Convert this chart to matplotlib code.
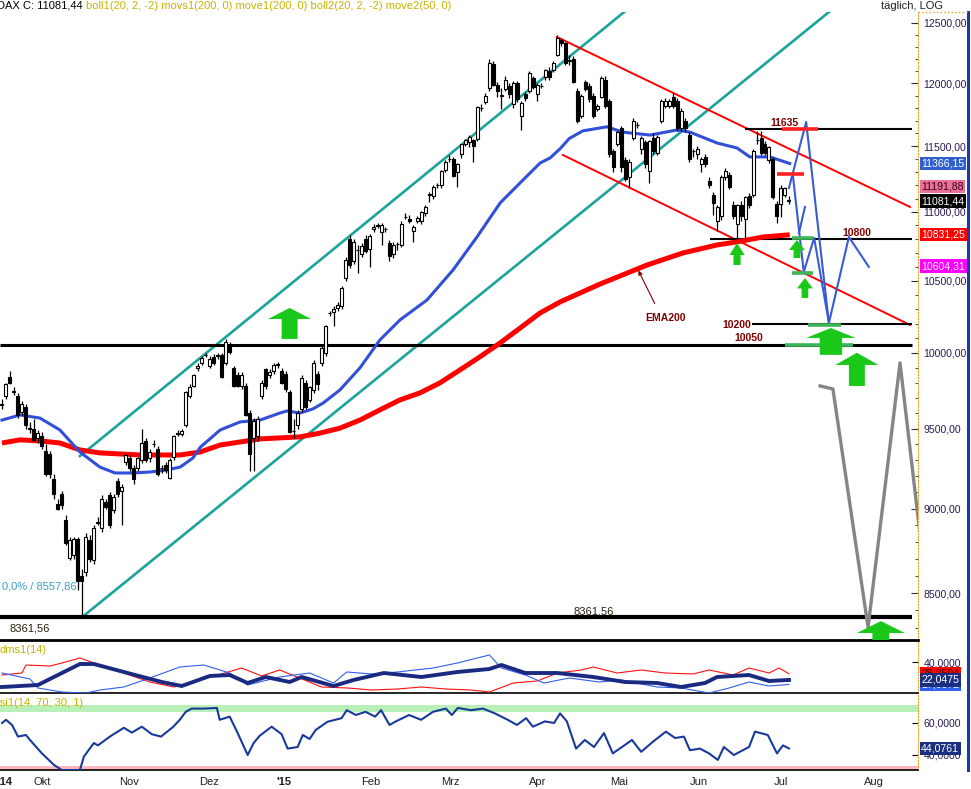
import matplotlib
matplotlib.use('Agg')
import matplotlib.pyplot as plt
from matplotlib.patches import Polygon
from matplotlib.lines import Line2D
from matplotlib.ticker import FixedLocator, FuncFormatter, NullFormatter
import numpy as np

plt.rcParams['font.family'] = ['Liberation Sans', 'DejaVu Sans']

# daily candles, 19.09.2014 .. 07.07.2015
opens = [9660, 9710, 9840, 9745, 9710, 9610, 9640, 9505, 9500, 9440,
         9450, 9360, 9340, 9180, 9030, 9090, 8930, 8705, 8720, 8815,
         8600, 8620, 8810, 8690, 8915, 8880, 9040, 9080, 8990, 9170,
         9110, 9290, 9310, 9250, 9250, 9300, 9420, 9310, 9400, 9370,
         9250, 9270, 9190, 9320, 9465, 9465, 9520, 9710, 9780, 9895,
         9930, 9985, 9910, 9970, 9975, 9985, 9930, 10045, 9895, 9850,
         9775, 9780, 9600, 9440, 9450, 9710, 9890, 9850, 9880, 9920,
         9880, 9860, 9735, 9485, 9520, 9630, 9795, 9685, 9750, 9860,
         9930, 10000, 10270, 10280, 10310, 10320, 10520, 10800, 10640, 10720,
         10690, 10800, 10730, 10870, 10895, 10850, 10870, 10770, 10690, 10765,
         10760, 10960, 10950, 10860, 10935, 10935, 10990, 11130, 11120, 11200,
         11200, 11320, 11400, 11400, 11300, 11440, 11515, 11530, 11550, 11555,
         11800, 11850, 11960, 12155, 11990, 11900, 11955, 11975, 11830, 12000,
         11735, 11915, 11940, 12045, 11915, 11980, 12050, 12100, 12105, 12235,
         12355, 12330, 12180, 12200, 11940, 11740, 12010, 11975, 11900, 11795,
         11890, 12030, 11855, 11460, 11515, 11640, 11395, 11265, 11565, 11665,
         11480, 11530, 11305, 11565, 11450, 11700, 11820, 11820, 11890, 11855,
         11640, 11700, 11590, 11460, 11440, 11360, 11420, 11235, 11130, 10930,
         10970, 11260, 11280, 11050, 10910, 11050, 10950, 11120, 11130, 11550,
         11565, 11520, 11390, 11400, 11060, 11060, 11130, 11090]
highs = [9690, 9800, 9880, 9770, 9730, 9680, 9660, 9540, 9560, 9490,
         9480, 9400, 9360, 9210, 9060, 9110, 8960, 8830, 8830, 8830,
         8640, 8850, 8840, 8900, 8950, 9080, 9060, 9100, 9090, 9190,
         9150, 9340, 9330, 9270, 9320, 9500, 9440, 9370, 9430, 9390,
         9270, 9290, 9310, 9460, 9490, 9500, 9745, 9790, 9860, 9930,
         9980, 10000, 9980, 9990, 10000, 10000, 10095, 10070, 9910, 9870,
         9870, 9800, 9620, 9570, 9580, 9820, 9900, 9890, 9930, 9940,
         9900, 9880, 9750, 9560, 9620, 9850, 9820, 9780, 9950, 9880,
         10050, 10190, 10290, 10320, 10350, 10460, 10670, 10830, 10800, 10760,
         10770, 10830, 10840, 10910, 10920, 10920, 10890, 10790, 10780, 10780,
         10930, 10990, 10980, 10900, 10970, 11010, 11050, 11150, 11200, 11220,
         11320, 11390, 11430, 11420, 11370, 11520, 11560, 11590, 11560, 11820,
         11830, 11920, 12200, 12180, 12010, 11960, 12060, 12000, 12020, 12020,
         11860, 11930, 12100, 12060, 12000, 12000, 12120, 12130, 12180, 12400,
         12370, 12340, 12230, 12220, 11960, 11910, 12030, 12000, 11920, 11830,
         12060, 12060, 11870, 11480, 11620, 11660, 11420, 11400, 11720, 11690,
         11580, 11550, 11550, 11600, 11590, 11870, 11880, 11870, 11920, 11880,
         11800, 11720, 11610, 11480, 11500, 11420, 11440, 11260, 11150, 11050,
         11280, 11330, 11300, 11080, 11060, 11080, 11120, 11140, 11480, 11620,
         11620, 11540, 11500, 11420, 11080, 11200, 11190, 11120]
lows = [9630, 9690, 9790, 9720, 9570, 9590, 9500, 9470, 9420, 9410,
        9370, 9200, 9190, 9060, 8990, 9000, 8780, 8690, 8700, 8520,
        8361.56, 8600, 8680, 8670, 8900, 8860, 9000, 8880, 8970, 9070,
        8900, 9270, 9230, 9150, 9230, 9280, 9290, 9290, 9380, 9200,
        9220, 9220, 9180, 9300, 9450, 9450, 9510, 9700, 9770, 9880,
        9920, 9970, 9900, 9920, 9960, 9830, 9920, 9990, 9770, 9770,
        9760, 9580, 9230, 9230, 9420, 9690, 9760, 9830, 9860, 9900,
        9790, 9740, 9470, 9440, 9500, 9610, 9630, 9670, 9730, 9750,
        9910, 9980, 10250, 10180, 10290, 10300, 10500, 10590, 10620, 10555,
        10670, 10700, 10600, 10850, 10880, 10760, 10850, 10640, 10660, 10720,
        10740, 10950, 10920, 10780, 10920, 10910, 10970, 11075, 11100, 11180,
        11180, 11300, 11380, 11260, 11190, 11410, 11500, 11490, 11380, 11540,
        11780, 11830, 11940, 11980, 11890, 11790, 11940, 11880, 11800, 11850,
        11627, 11860, 11920, 11950, 11860, 11960, 12030, 12030, 12090, 12220,
        12310, 12150, 12150, 12000, 11680, 11720, 11940, 11850, 11720, 11780,
        11880, 11800, 11420, 11300, 11500, 11300, 11230, 11180, 11550, 11640,
        11440, 11330, 11220, 11440, 11430, 11680, 11800, 11800, 11800, 11620,
        11620, 11610, 11380, 11420, 11400, 11300, 11340, 11180, 10980, 10860,
        10940, 11240, 11170, 10950, 10800, 10930, 10800, 11030, 11110, 11520,
        11430, 11430, 11370, 11100, 10920, 10960, 11110, 11060]
closes = [9650, 9790, 9800, 9740, 9590, 9660, 9520, 9500, 9430, 9470,
          9390, 9210, 9210, 9090, 9000, 9020, 8790, 8810, 8815, 8570,
          8570, 8830, 8700, 8880, 8920, 9060, 9010, 8900, 9070, 9090,
          9130, 9330, 9250, 9180, 9310, 9410, 9300, 9350, 9402, 9210,
          9252, 9240, 9300, 9450, 9470, 9485, 9735, 9770, 9850, 9910,
          9965, 9987, 9960, 9930, 9985, 9840, 10070, 10005, 9780, 9780,
          9850, 9590, 9340, 9550, 9560, 9800, 9780, 9870, 9915, 9922,
          9800, 9760, 9480, 9487, 9600, 9830, 9640, 9770, 9930, 9790,
          10030, 10180, 10272, 10300, 10330, 10445, 10650, 10610, 10780, 10722,
          10750, 10710, 10820, 10890, 10902, 10900, 10872, 10680, 10760, 10767,
          10910, 10962, 10930, 10890, 10955, 11000, 11040, 11132, 11190, 11202,
          11310, 11380, 11402, 11270, 11360, 11515, 11550, 11575, 11500, 11810,
          11802, 11900, 12165, 11990, 11940, 11902, 12030, 11915, 12005, 11870,
          11845, 11880, 12085, 11970, 11990, 11982, 12105, 12050, 12165, 12375,
          12330, 12170, 12190, 12010, 11700, 11900, 11955, 11870, 11735, 11820,
          12045, 11820, 11440, 11340, 11610, 11340, 11245, 11380, 11700, 11667,
          11565, 11360, 11540, 11460, 11575, 11855, 11855, 11855, 11820, 11640,
          11780, 11640, 11400, 11462, 11480, 11400, 11360, 11200, 11070, 11040,
          11260, 11310, 11190, 10970, 11050, 10970, 11110, 11050, 11460, 11552,
          11450, 11450, 11490, 11110, 10970, 11180, 11180, 11081.44]

# move2(50) and move1(200)
ma50_x = [0, 4.5, 9.5, 14.5, 19.5, 24.5, 28.3, 32.8, 37, 41.3,
          44.6, 47.8, 49.6, 54.6, 59.6, 64.6, 69.6, 71.3, 74.6, 77.8,
          80.4, 84.6, 89.6, 94.6, 99.6, 106.4, 112.9, 118.9, 124.7, 129.7,
          134.7, 137.2, 139.7, 142, 145.4, 151.4, 155.4, 162.2, 169, 172.2,
          179, 184, 187.2, 192.2, 197.2]
ma50_v = [9555, 9588, 9568, 9491, 9351, 9256, 9219, 9219, 9225, 9238,
          9256, 9313, 9380, 9491, 9543, 9555, 9601, 9614, 9601, 9627,
          9666, 9752, 9898, 10087, 10224, 10364, 10576, 10815, 11067, 11218,
          11370, 11409, 11480, 11560, 11620, 11652, 11610, 11587, 11627, 11610,
          11525, 11486, 11417, 11417, 11366.15]
ema_x = [0, 4.5, 9.5, 14.5, 19.5, 24.5, 34.5, 44.6, 49.6, 54.6,
         64.6, 74.6, 79.6, 84.6, 89.6, 94.6, 99.6, 104.6, 109.6, 114.6,
         119.6, 124.7, 129.7, 134.7, 139.7, 149.7, 161.5, 170.5, 179, 184,
         190.5, 197.2]
ema_v = [9408, 9428, 9421, 9408, 9364, 9345, 9332, 9332, 9351, 9395,
         9434, 9447, 9471, 9503, 9555, 9621, 9686, 9732, 9798, 9884,
         9972, 10067, 10169, 10273, 10350, 10476, 10612, 10699, 10757, 10779,
         10815, 10831.25]

# trend channels (start, end)
cyan_lines = [([19.5, 156], [9325, 12600]), ([20, 208], [8361.56, 12620])]
red_lines = [([138.9, 227.3], [12382, 11037]), ([140.4, 227.3], [11432, 10190])]

# forecast paths
blue_paths = [([197, 201.3, 207, 212, 217], [11180, 11690, 10204, 10815, 10598]),
              ([198, 200.7, 203.3, 207], [11270, 10562, 10808, 10204]),
              ([199.5, 201], [10844, 11037])]
grey_x = [204.8, 208, 216.8, 224.8, 229.8]
grey_v = [9778, 9758, 8305, 9932, 8845]

# dms1(14)
adx_x = [0, 9, 19.5, 23, 30.5, 40, 45, 52, 57, 61.5, 66, 72, 75, 83, 88, 95.6,
         105, 114, 122, 125, 131, 139, 148, 156, 164, 170, 176, 179, 187, 192, 197]
adx_v = [15, 17, 38, 38, 30, 20, 16, 26, 27, 19, 25, 20, 25, 16, 22, 29,
         25, 30, 33, 37, 29, 29, 25, 20, 19, 15, 19, 25, 27, 21, 22.05]
dir_red_x = [0, 5, 6, 12, 15, 19.5, 24.5, 30.5, 37, 43,
             49.5, 54, 60, 65, 69.5, 74.5, 80, 86.5, 92.6, 99,
             105, 111, 117.4, 122, 128, 134, 139, 145, 148, 154,
             160, 166, 173, 177, 183, 187, 192, 194.5, 197]
dir_red_v = [27, 29, 37, 36, 39, 44, 37, 29, 20, 15,
             22, 27, 34, 26, 32, 24, 15, 14, 12, 13,
             15, 13, 12, 10, 19, 21, 29, 32, 35, 29,
             32, 29, 28, 32, 27, 34, 29, 34, 28.25]
dir_blue_x = [0, 7, 9, 15, 21, 24.5, 30.5, 37, 44.5, 50.5,
              57, 61.5, 69.5, 77, 83, 86.3, 92.6, 99, 107.9, 114,
              122, 125, 131, 135.7, 142, 149.5, 155, 164, 170, 177,
              182, 187, 192, 197]
dir_blue_v = [29, 23, 14, 10, 9, 12, 15, 24, 35, 37,
              29, 17, 25, 29, 19, 30, 28, 30, 34, 39,
              47, 34, 27, 19, 24, 20, 22, 15, 14, 9,
              14, 20, 16, 17.6]

# rsi1(14)
rsi_x = [0, 1, 2.5, 4, 6, 7, 10, 13, 15, 19.5,
         20.5, 23, 24, 27, 30.5, 32.5, 35, 37.5, 39.8, 42.8,
         44.5, 46, 47.5, 50.5, 53.8, 54.5, 57, 59, 61.5, 63,
         64.5, 67.5, 70, 71.5, 74, 75.3, 77, 78.5, 81.5, 85,
         86.3, 88.6, 91, 93.4, 94.9, 97, 98.6, 101.9, 104.9, 107.9,
         111.1, 112.6, 114.1, 117.4, 120.4, 123.4, 126.6, 128.9, 131.2, 132.9,
         135.9, 138.2, 139.7, 141.4, 143.7, 145.9, 148.2, 150.7, 152.9, 155.2,
         157.7, 160, 163, 166.2, 168.5, 170.7, 172.2, 174.7, 177, 179.2,
         180.7, 183.2, 184.7, 187, 188.5, 191.7, 194, 195.5, 197]
rsi_v = [60, 62, 58.8, 51.5, 52.5, 49.4, 41, 33.8, 30.6, 30.6,
         39, 47.5, 46, 51.5, 57, 54, 57.7, 53, 51.5, 57.5,
         62, 67, 69, 69, 69.4, 62, 64, 53.7, 40, 47.5,
         52, 57.7, 53, 44, 45, 52.5, 50, 55.6, 60.8, 63,
         68, 65, 67, 64, 68, 58.8, 61, 65, 62, 67,
         69, 65, 69.4, 68, 69, 66, 62, 58.8, 63, 57.7,
         61, 60, 66, 61, 44, 49.4, 45, 53.7, 41, 45,
         49.4, 42, 48.4, 54.6, 50.6, 51.5, 43, 44, 41, 36.9,
         45, 40, 42, 45, 54.6, 52.5, 41, 46, 44.08]

month_pos = [8.0, 29.3, 49.3, 68.6, 89.9, 109.9, 131.9, 152.2, 172.2, 193.2, 215.8]
month_lbl = ['Okt', 'Nov', 'Dez', "'15", 'Feb', 'Mrz', 'Apr', 'Mai', 'Jun', 'Jul', 'Aug']

W, H = 971, 789
def fx(px):
    return px / W
def fy(py):
    return 1 - py / H

fig = plt.figure(figsize=(W / 100, H / 100), dpi=100)
ax = fig.add_axes([0, fy(640), fx(918), (640 - 12) / H])
dms = fig.add_axes([0, fy(693), fx(918), (693 - 642) / H])
rsi = fig.add_axes([0, fy(770), fx(918), (770 - 695) / H])
XL = (-0.5, 229.3)
ORANGE = '#f0a020'
LBL = '#2a1a50'

fmt2 = FuncFormatter(lambda v, p: f'{v:.2f}'.replace('.', ','))
fmt4 = FuncFormatter(lambda v, p: f'{v:.4f}'.replace('.', ','))

# ---------------- main panel ----------------
ax.set_yscale('log')
ax.set_ylim(8234, 12593)
ax.set_xlim(*XL)
ax.set_xticks([])
ax.yaxis.tick_right()
ax.yaxis.set_major_locator(FixedLocator(np.arange(8500, 12501, 500)))
ax.yaxis.set_minor_locator(FixedLocator([v for v in range(8300, 12600, 100) if v % 500]))
ax.yaxis.set_major_formatter(fmt2)
ax.yaxis.set_minor_formatter(NullFormatter())
ax.tick_params(axis='y', which='major', direction='in', length=5, pad=4,
               labelsize=7.6, labelcolor=LBL, color='#303030')
ax.tick_params(axis='y', which='minor', direction='in', length=2.5, color='#303030')
for s in ['top', 'left']:
    ax.spines[s].set_visible(False)
ax.spines['right'].set_color(ORANGE)
ax.spines['right'].set_linestyle(':')
ax.spines['bottom'].set_linewidth(2)

for xs, ys in cyan_lines:
    ax.plot(xs, ys, color='#1ba39c', lw=1.9, zorder=3)
for xs, ys in red_lines:
    ax.plot(xs, ys, color='#ff0000', lw=1.4, zorder=3)

for lev, x0, x1, lw in [(8361.56, -0.5, 227.8, 3.0), (10050, -0.5, 227.8, 2.2),
                        (11635, 186, 227.8, 1.5), (10800, 177.2, 227.8, 1.5),
                        (10200, 187.7, 227.8, 1.5)]:
    ax.plot([x0, x1], [lev, lev], color='black', lw=lw, zorder=4, solid_capstyle='butt')

ax.plot(ema_x, ema_v, color='#ff0000', lw=3.6, zorder=5, solid_capstyle='butt')
ax.plot(ma50_x, ma50_v, color='#3050d8', lw=2.2, zorder=5)

x = np.arange(len(closes))
o = np.array(opens, dtype=float)
c = np.array(closes, dtype=float)
up = c >= o
ax.vlines(x, lows, highs, color='black', lw=0.9, zorder=6)
ax.bar(x[up], (c - o)[up], bottom=o[up], width=0.75, color='white',
       edgecolor='black', linewidth=0.8, zorder=7)
ax.bar(x[~up], (o - c)[~up], bottom=c[~up], width=0.75, color='black',
       edgecolor='black', linewidth=0.8, zorder=7)

# forecast
for xs, ys in blue_paths:
    ax.plot(xs, ys, color='#3a5ad0', lw=1.5, zorder=8)
ax.plot(grey_x, grey_v, color='#858585', lw=2.4, zorder=8)

for lev, x0, x1, col in [(11635, 195.2, 204.3, '#ff2020'), (11286, 194, 200.7, '#ff2020'),
                         (10808, 197.7, 203, '#3cb55a'), (10555, 197.7, 203, '#3cb55a'),
                         (10190, 201.7, 210, '#3cb55a'), (10050, 196, 213, '#3cb55a')]:
    ax.plot([x0, x1], [lev, lev], color=col, lw=2.6, zorder=9, solid_capstyle='butt')

def up_arrow(xc, top, neck, bottom, hw, sw):
    pts = [(xc - sw, bottom), (xc - sw, neck), (xc - hw, neck), (xc, top),
           (xc + hw, neck), (xc + sw, neck), (xc + sw, bottom)]
    ax.add_patch(Polygon(pts, closed=True, fc='#19c819', ec='none', zorder=10, clip_on=True))

for a in [(72, 10308, 10231, 10094, 5.4, 2.0), (184, 10771, 10684, 10612, 1.9, 0.9),
          (199, 10793, 10720, 10662, 2.0, 0.85), (201, 10519, 10445, 10378, 2.0, 0.85),
          (207.5, 10169, 10101, 9986, 6.2, 2.8), (214, 10000, 9918, 9778, 5.4, 2.0),
          (220, 8340, 8273, 8200, 6.0, 2.1)]:
    up_arrow(*a)

lab = dict(color='#800000', fontsize=7.5, fontweight='bold', ha='center', va='center', zorder=12)
ax.text(195.9, 11682, '11635', **lab)
ax.text(214.1, 10844, '10800', **lab)
ax.text(184, 10190, '10200', **lab)
ax.text(186.9, 10101, '10050', **lab)
ax.text(166.2, 10238, 'EMA200', **lab)
ax.annotate('', xy=(159, 10590), xytext=(163.7, 10322),
            arrowprops=dict(arrowstyle='-|>', color='#800000', lw=0.8, mutation_scale=6), zorder=12)
ax.text(0, 8540, '0,0% / 8557,86', color='#3a9ec8', fontsize=8, va='center', ha='left', zorder=12)
ax.text(2, 8300, '8361,56', color='#2a2010', fontsize=8, va='center', ha='left', zorder=12)
ax.text(148, 8397, '8361,56', color='#2a2010', fontsize=8, va='center', ha='center', zorder=12)

def value_box(axis, val, text, fc, tc):
    axis.text(1.0035, val, text, transform=axis.get_yaxis_transform(), ha='left', va='center',
              fontsize=7.6, color=tc, zorder=20, clip_on=False,
              bbox=dict(boxstyle='square,pad=0.15', fc=fc, ec='none'))

value_box(ax, 11366.15, '11366,15', '#3060d0', 'white')
value_box(ax, 11191.88, '11191,88', '#e8709a', '#3a0010')
value_box(ax, 11081.44, '11081,44', 'black', 'white')
value_box(ax, 10831.25, '10831,25', '#ff0000', 'white')
value_box(ax, 10604.31, '10604,31', '#ff00ff', 'white')

# ---------------- dms panel ----------------
dms.set_xlim(*XL)
dms.set_ylim(9, 60)
dms.set_xticks([])
dms.plot(dir_red_x, dir_red_v, color='#ff1010', lw=0.8, zorder=3)
dms.plot(dir_blue_x, dir_blue_v, color='#3060f0', lw=0.8, zorder=3)
dms.plot(adx_x, adx_v, color='#1a2a80', lw=2.8, zorder=4)
dms.yaxis.tick_right()
dms.set_yticks([40])
dms.yaxis.set_major_formatter(fmt4)
dms.tick_params(axis='y', direction='in', length=4, pad=4, labelsize=7.6, labelcolor=LBL)
for s in ['top', 'left']:
    dms.spines[s].set_visible(False)
dms.spines['right'].set_color(ORANGE)
dms.spines['right'].set_linestyle(':')
dms.spines['bottom'].set_linewidth(1.2)
value_box(dms, 28.25, '28,2504', '#ff0000', '#400000')
value_box(dms, 17.6, '17,6372', '#3060f0', 'white')
value_box(dms, 22.05, '22,0475', '#1a2f80', 'white')

# ---------------- rsi panel ----------------
rsi.set_xlim(*XL)
rsi.set_ylim(30.625, 77.5)
rsi.set_xticks([])
rsi.axhspan(66.9, 71.3, color='#b8f0b8', lw=0, zorder=1)
rsi.axhspan(30.625, 33.1, color='#ffb8c0', lw=0, zorder=1)
rsi.plot(rsi_x, rsi_v, color='#1a3a9a', lw=1.5, zorder=3)
rsi.yaxis.tick_right()
rsi.set_yticks([40, 60])
rsi.yaxis.set_major_formatter(fmt4)
rsi.tick_params(axis='y', direction='in', length=4, pad=4, labelsize=7.6, labelcolor=LBL)
for s in ['top', 'left']:
    rsi.spines[s].set_visible(False)
rsi.spines['right'].set_color(ORANGE)
rsi.spines['right'].set_linestyle(':')
rsi.spines['bottom'].set_linewidth(1.2)
value_box(rsi, 44.08, '44,0761', '#1a2f80', 'white')

tr = rsi.get_xaxis_transform()
for pos, lbl in zip(month_pos, month_lbl):
    rsi.text(pos, -0.16, lbl, transform=tr, ha='left', va='center', fontsize=8,
             color='#202020', clip_on=False, fontweight='bold' if lbl.startswith("'") else 'normal')
fig.text(fx(-3), fy(782), "'14", fontsize=8, color='#202020', va='center', fontweight='bold')

# ---------------- header & frame ----------------
fig.text(fx(-1), fy(650), 'dms1(14)', fontsize=8, color='#c8b400', va='center')
fig.text(fx(-4), fy(703), 'rsi1(14, 70, 30, 1)', fontsize=8, color='#c8b400', va='center')
t1 = fig.text(fx(-3), fy(6), 'DAX C: 11081,44', fontsize=8, color='black', va='center')
fig.text(fx(943), fy(6), 'täglich, LOG', fontsize=8, color='#202020', va='center', ha='right')
renderer = fig.canvas.get_renderer()
bb = t1.get_window_extent(renderer)
fig.text(bb.x1 / W + fx(3), fy(6),
         'boll1(20, 2, -2) movs1(200, 0) move1(200, 0) boll2(20, 2, -2) move2(50, 0)',
         fontsize=8, color='#c8b400', va='center')

fig.add_artist(Line2D([fx(968), fx(968)], [fy(12), fy(770)], color='#1a3aa8', lw=2.2))
fig.add_artist(Line2D([fx(918), fx(968)], [fy(12), fy(12)], color=ORANGE, lw=1, ls=':'))

fig.savefig('out.png', dpi=100)
